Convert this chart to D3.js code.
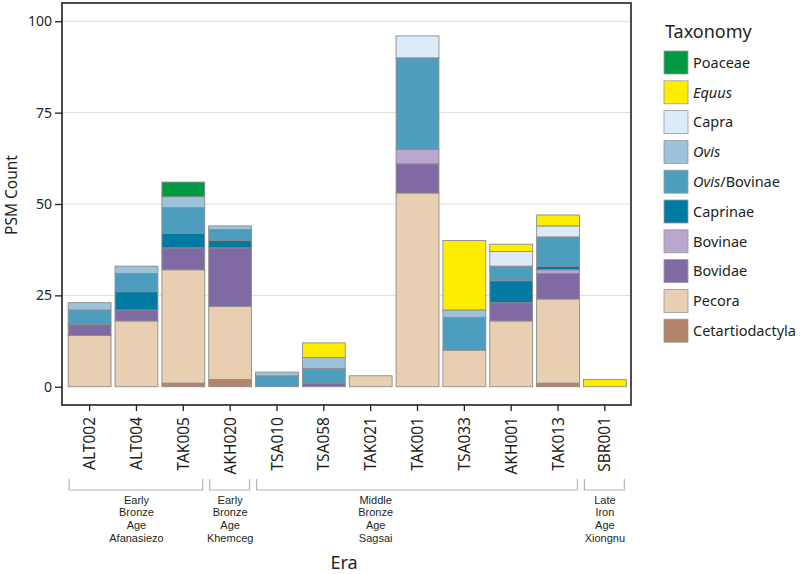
<!DOCTYPE html>
<html>
<head>
<meta charset="utf-8">
<script src="https://cdn.jsdelivr.net/npm/d3@7"></script>
<style>
  body { margin: 0; background: #fff; }
  svg { display: block; font-family: "Noto Sans", "Open Sans", sans-serif; }
</style>
</head>
<body>
<svg id="chart" width="800" height="574"></svg>
<script>
// ---------- DATA ----------
const samples = ["ALT002","ALT004","TAK005","AKH020","TSA010","TSA058","TAK021","TAK001","TSA033","AKH001","TAK013","SBR001"];

const Cetartiodactyla = [0, 0, 1, 2, 0, 0, 0, 0, 0, 0, 1, 0];
const Pecora          = [14,18,31,20, 0, 0, 3,53,10,18,23, 0];
const Bovidae         = [3, 3, 6,16, 0, 1, 0, 8, 0, 5, 7, 0];
const Bovinae         = [0, 0, 0, 0, 0, 0, 0, 4, 0, 0, 1, 0];
const Caprinae        = [0, 5, 4, 2, 0, 0, 0, 0, 0, 6, 1, 0];
const OvisBovinae     = [4, 5, 7, 3, 3, 4, 0,25, 9, 4, 8, 0];
const Ovis            = [2, 2, 3, 1, 1, 3, 0, 0, 2, 0, 0, 0];
const Capra           = [0, 0, 0, 0, 0, 0, 0, 6, 0, 4, 3, 0];
const Equus           = [0, 0, 0, 0, 0, 4, 0, 0,19, 2, 3, 2];
const Poaceae         = [0, 0, 4, 0, 0, 0, 0, 0, 0, 0, 0, 0];

// stack order bottom -> top
const taxa = ["Cetartiodactyla","Pecora","Bovidae","Bovinae","Caprinae","Ovis/Bovinae","Ovis","Capra","Equus","Poaceae"];
const taxaValues = [Cetartiodactyla, Pecora, Bovidae, Bovinae, Caprinae, OvisBovinae, Ovis, Capra, Equus, Poaceae];
const taxaColors = ["#b28469","#e8cfb1","#7f6aa3","#b8a6cc","#007aa3","#4d9dbf","#9cc3da","#dcebf7","#ffed00","#009a44"];

const yTicks = [0, 25, 50, 75, 100];

const eras = [
  { lines: ["Early","Bronze","Age","Afanasiezo"], from: "ALT002", to: "TAK005", anchor: "ALT004" },
  { lines: ["Early","Bronze","Age","Khemceg"],    from: "AKH020", to: "AKH020", anchor: "AKH020" },
  { lines: ["Middle","Bronze","Age","Sagsai"],    from: "TSA010", to: "TAK013", anchor: "TAK021" },
  { lines: ["Late","Iron","Age","Xiongnu"],       from: "SBR001", to: "SBR001", anchor: "SBR001" }
];

// ---------- LAYOUT ----------
const svg = d3.select("#chart");
const plot = { left: 62, right: 631, top: 3, bottom: 405 };
const textColor = "#231f20";

const x = d3.scaleBand().domain(samples).range([63.5, plot.right]).paddingInner(0.085).paddingOuter(0.1);
const y = d3.scaleLinear().domain([-5, 105]).range([plot.bottom, plot.top]);

// table for stack
const table = samples.map((s, i) => {
  const row = { sample: s };
  taxa.forEach((t, j) => row[t] = taxaValues[j][i]);
  return row;
});
const stacked = d3.stack().keys(taxa)(table);
const color = d3.scaleOrdinal().domain(taxa).range(taxaColors);

// gridlines
svg.append("g").selectAll("line").data(yTicks.filter(d => d > 0)).join("line")
  .attr("x1", plot.left).attr("x2", plot.right)
  .attr("y1", d => y(d)).attr("y2", d => y(d))
  .attr("stroke", "#dedede").attr("stroke-width", 1);

// bars
svg.append("g").selectAll("g").data(stacked).join("g")
  .attr("fill", d => color(d.key))
  .selectAll("rect").data(d => d.filter(p => p[1] - p[0] > 0)).join("rect")
  .attr("x", d => x(d.data.sample))
  .attr("width", x.bandwidth())
  .attr("y", d => y(d[1]))
  .attr("height", d => y(d[0]) - y(d[1]))
  .attr("stroke", "#8c8c8c").attr("stroke-width", 0.9);

// frame
svg.append("rect")
  .attr("x", plot.left).attr("y", plot.top)
  .attr("width", plot.right - plot.left).attr("height", plot.bottom - plot.top)
  .attr("fill", "none").attr("stroke", "#231f20").attr("stroke-width", 1.6);

// y axis
const yAxis = svg.append("g").attr("transform", `translate(${plot.left},0)`)
  .call(d3.axisLeft(y).tickValues(yTicks).tickSize(7).tickPadding(3));
yAxis.select(".domain").remove();
yAxis.selectAll("line").attr("stroke", textColor).attr("stroke-width", 1.3);
yAxis.selectAll("text").attr("fill", textColor).style("font-size", "14px").style("font-family", "'Noto Sans', sans-serif");

// x axis
const xAxis = svg.append("g").attr("transform", `translate(0,${plot.bottom})`)
  .call(d3.axisBottom(x).tickSize(6).tickPadding(0));
xAxis.select(".domain").remove();
xAxis.selectAll("line").attr("stroke", textColor).attr("stroke-width", 1.3);
xAxis.selectAll("text")
  .attr("fill", textColor)
  .style("font-size", "15.5px").style("font-family", "'Noto Sans', sans-serif")
  .attr("text-anchor", "end")
  .attr("transform", "rotate(-90)")
  .attr("x", -12).attr("y", 0).attr("dy", "0.36em");

// axis titles
svg.append("text")
  .attr("transform", "translate(17,195) rotate(-90)")
  .attr("text-anchor", "middle")
  .attr("fill", textColor).style("font-size", "15.5px")
  .text("PSM Count");

svg.append("text")
  .attr("x", 344).attr("y", 568.5)
  .attr("text-anchor", "middle")
  .attr("fill", textColor).style("font-size", "18px")
  .text("Era");

// era brackets
const labelNudge = { "Middle": 5 };
const brk = svg.append("g");
eras.forEach(e => {
  const x0 = x(e.from) + 1;
  const x1 = x(e.to) + x.bandwidth() - 2;
  brk.append("path")
    .attr("d", `M${x0},479 V490 H${x1} V479`)
    .attr("fill", "none").attr("stroke", "#b5b5b5").attr("stroke-width", 1.2);
  const cx = x(e.anchor) + x.bandwidth() / 2 + (labelNudge[e.lines[0]] || 0);
  e.lines.forEach((ln, i) => {
    brk.append("text").attr("text-anchor", "middle")
      .attr("x", cx).attr("y", 503.5 + i * 12.8)
      .attr("fill", textColor)
      .style("font-family", "'Liberation Sans', Arial, sans-serif")
      .style("font-size", "11px")
      .text(ln);
  });
});

// legend
const lg = svg.append("g");
lg.append("text").attr("x", 665).attr("y", 37.5)
  .attr("fill", textColor).style("font-size", "18px").text("Taxonomy");
const legendTaxa = taxa.slice().reverse();
legendTaxa.forEach((t, i) => {
  const yy = 51 + i * 29.8;
  lg.append("rect").attr("x", 664).attr("y", yy).attr("width", 24).attr("height", 23)
    .attr("fill", color(t)).attr("stroke", "#9a9a9a").attr("stroke-width", 0.8);
  const tx = lg.append("text").attr("x", 693).attr("y", yy + 11.5).attr("dy", "0.36em")
    .attr("fill", textColor).style("font-size", "14.5px");
  if (t === "Equus" || t === "Ovis") {
    tx.append("tspan").style("font-style", "italic").text(t);
  } else if (t === "Ovis/Bovinae") {
    tx.append("tspan").style("font-style", "italic").text("Ovis");
    tx.append("tspan").text("/Bovinae");
  } else {
    tx.text(t);
  }
});
</script>
</body>
</html>
